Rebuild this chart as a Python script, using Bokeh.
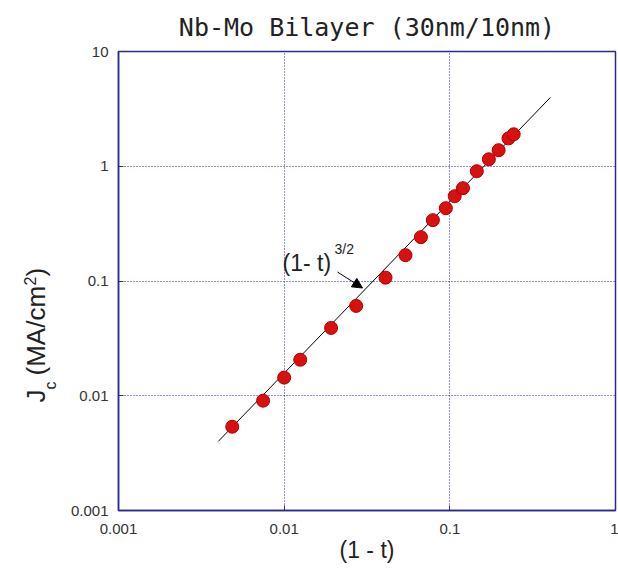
import math
from bokeh.plotting import figure
from bokeh.layouts import row
from bokeh.models import Label, Arrow, NormalHead, FixedTicker, Range1d
from bokeh.core.properties import value
from bokeh.embed import file_html
from bokeh.resources import INLINE

# ---- data ----
one_minus_t = [0.00486, 0.00746, 0.0100, 0.0125, 0.0192, 0.0272, 0.0409, 0.0540,
               0.0669, 0.0790, 0.0946, 0.107, 0.120, 0.1455, 0.172, 0.197, 0.226, 0.243]
jc = [0.00537, 0.00906, 0.0144, 0.0206, 0.0390, 0.0607, 0.107, 0.168,
      0.241, 0.339, 0.431, 0.548, 0.644, 0.905, 1.15, 1.38, 1.75, 1.90]

fit_x = [0.0040, 0.405]
fit_y = [0.0040, 3.98]

x_ticks = [0.001, 0.01, 0.1, 1]
x_tick_labels = ["0.001", "0.01", "0.1", "1"]
y_ticks = [0.001, 0.01, 0.1, 1, 10]
y_tick_labels = ["0.001", "0.01", "0.1", "1", "10"]

title_text = "Nb-Mo Bilayer (30nm/10nm)"
x_label = "(1 - t)"
y_label_parts = ["J", "c", "(MA/cm", "2", ")"]

# ---- layout geometry (pixels) ----
W, H = 618, 568
LW = 60                      # width of the strip holding the y label
FL, FR, FT, FB = 118, 615, 50, 510
NAVY = "#2b2b8a"
GRID = "#1f1f9a"
SANS = "Liberation Sans"
TXT = "#222222"


def px2x(px):
    return 10 ** (math.log10(x_ticks[0]) + (px - FL) / ((FR - FL) / 3.0))


def py2y(py):
    return 10 ** (math.log10(y_ticks[0]) + (FB - py) / ((FB - FT) / 4.0))


# ---- strip with the rotated y-axis label ----
lab = figure(frame_width=LW, frame_height=H, x_range=Range1d(0, LW),
             y_range=Range1d(H, 0), title=None,
             x_axis_location=None, y_axis_location=None,
             output_backend="svg", toolbar_location=None,
             min_border=0, outline_line_color=None)
lab.grid.visible = False
ylab_pos = [(35, 351, "26px"), (50, 338, "16px"), (35, 324, "26px"),
            (29, 234, "16px"), (35, 225, "26px")]
for txt, (px, py, fs) in zip(y_label_parts, ylab_pos):
    lab.text(x=[px], y=[py], text=[txt], angle=math.pi / 2,
             text_font=value(SANS), text_font_size=fs, text_color=TXT,
             text_baseline="alphabetic", text_align="left")

# ---- main plot ----
p = figure(width=W - LW, height=H, x_axis_type="log", y_axis_type="log",
           x_range=Range1d(0.001, 1), y_range=Range1d(0.001, 10),
           output_backend="svg", toolbar_location=None,
           min_border_left=FL - LW, min_border_right=W - FR,
           min_border_top=FT, min_border_bottom=H - FB,
           background_fill_color="white", border_fill_color="white")

p.title.text = title_text
p.title.align = "center"
p.title.text_font = "DejaVu Sans Mono"
p.title.text_font_size = "25px"
p.title.text_font_style = "normal"
p.title.text_color = TXT
p.title.standoff = 20

p.outline_line_color = NAVY
p.outline_line_width = 1.5
p.outline_line_alpha = 1.0

p.xaxis.ticker = FixedTicker(ticks=x_ticks, minor_ticks=[])
p.yaxis.ticker = FixedTicker(ticks=y_ticks, minor_ticks=[])
p.xaxis.major_label_overrides = {t: l for t, l in zip(x_ticks, x_tick_labels)}
p.yaxis.major_label_overrides = {t: l for t, l in zip(y_ticks, y_tick_labels)}

for ax in (p.xaxis, p.yaxis):
    ax.axis_line_color = NAVY
    ax.axis_line_width = 1.5
    ax.major_tick_line_color = NAVY
    ax.major_tick_in = 5
    ax.major_tick_out = 0
    ax.minor_tick_line_color = None
    ax.major_label_text_font = SANS
    ax.major_label_text_font_size = "15px"
    ax.major_label_text_color = "#333333"

p.xaxis.major_label_standoff = 13
p.yaxis.major_label_standoff = 10

p.xaxis.axis_label = x_label
p.xaxis.axis_label_text_font = SANS
p.xaxis.axis_label_text_font_size = "23px"
p.xaxis.axis_label_text_font_style = "normal"
p.xaxis.axis_label_text_color = TXT
p.xaxis.axis_label_standoff = 0

for g in (p.xgrid, p.ygrid):
    g.grid_line_color = GRID
    g.grid_line_dash = "1 2"
    g.grid_line_width = 1

# fit line and data
p.line(fit_x, fit_y, line_color="black", line_width=1)
p.scatter(one_minus_t, jc, size=13, fill_color="#d91010", line_color="#b00000",
          line_width=1)

# annotation (1- t)^{3/2} with arrow
p.add_layout(Label(x=px2x(282), y=py2y(262), text="(1- t)", text_font=SANS,
                   text_font_size="23px", text_color=TXT,
                   text_baseline="alphabetic", text_align="left"))
p.add_layout(Label(x=px2x(334), y=py2y(248), text="3/2", text_font=SANS,
                   text_font_size="14px", text_color=TXT,
                   text_baseline="alphabetic", text_align="left"))
p.add_layout(Arrow(end=NormalHead(size=10, fill_color="black", line_color="black"),
                   x_start=px2x(337), y_start=py2y(271),
                   x_end=px2x(362), y_end=py2y(287),
                   line_color="black", line_width=1))

layout = row(lab, p)
open("out.html", "w").write(file_html(layout, INLINE))
